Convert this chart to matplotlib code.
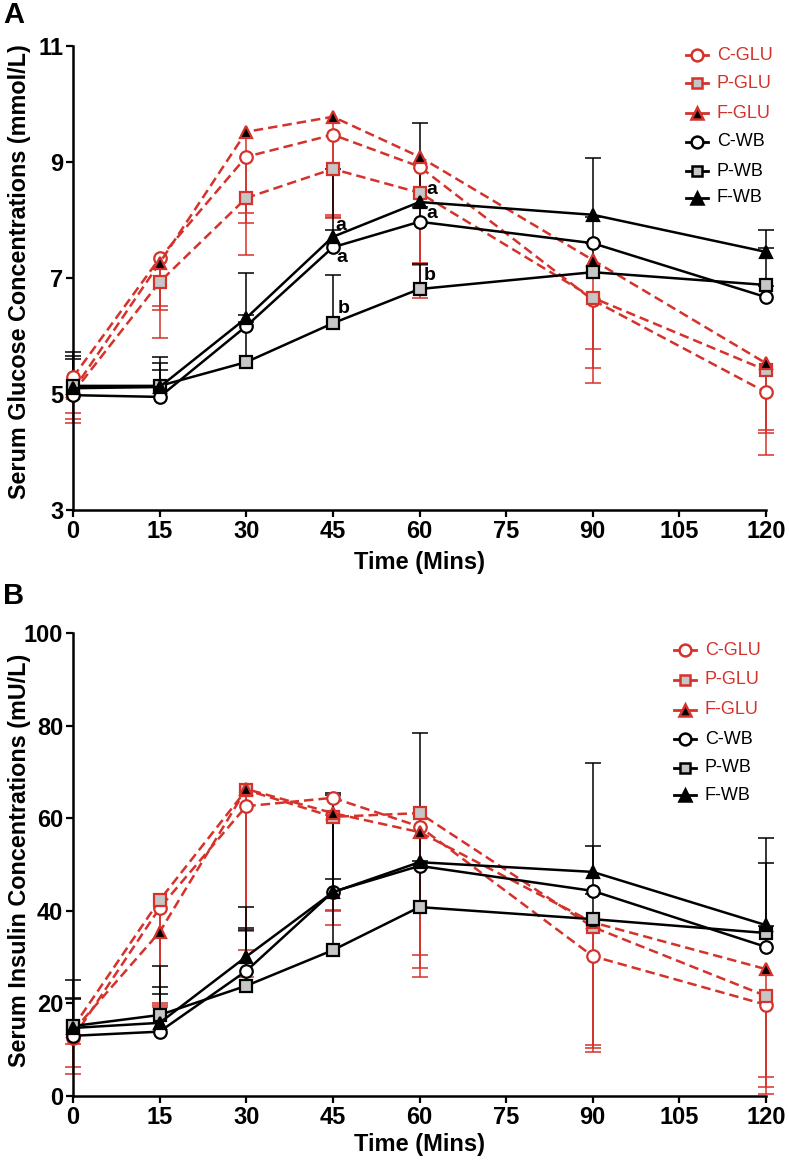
import matplotlib
matplotlib.use("Agg")
import matplotlib.pyplot as plt
from matplotlib.lines import Line2D
import numpy as np

# ---------------- data ----------------
times = [0, 15, 30, 45, 60, 90, 120]
series_names = ["C-GLU", "P-GLU", "F-GLU", "C-WB", "P-WB", "F-WB"]

# Panel A: serum glucose (mmol/L)
glu_C_GLU = [5.29, 7.34, 9.09, 9.47, 8.92, 6.62, 5.03]
glu_P_GLU = [5.02, 6.93, 8.38, 8.88, 8.47, 6.66, 5.41]
glu_F_GLU = [5.06, 7.26, 9.52, 9.78, 9.09, 7.31, 5.53]
glu_C_WB = [4.98, 4.95, 6.17, 7.53, 7.97, 7.60, 6.67]
glu_P_WB = [5.14, 5.14, 5.55, 6.22, 6.81, 7.10, 6.88]
glu_F_WB = [5.10, 5.12, 6.31, 7.71, 8.31, 8.09, 7.45]
# error bars (GLU drawn downward, WB drawn upward)
glu_C_GLU_sd = [0.72, 1.37, 1.69, 1.44, 2.26, 1.43, 1.08]
glu_P_GLU_sd = [0.52, 0.48, 0.43, 0.79, 1.25, 1.21, 1.08]
glu_F_GLU_sd = [0.39, 0.74, 1.40, 1.72, 1.83, 1.53, 1.15]
glu_C_WB_sd = [0.62, 0.46, 0.20, 0.30, 0.25, 0.45, 0.20]
glu_P_WB_sd = [0.58, 0.50, 0.70, 0.83, 0.44, 0.50, 0.64]
glu_F_WB_sd = [0.55, 0.41, 0.78, 1.17, 1.36, 0.98, 0.38]

# Panel B: serum insulin (mU/L)
ins_C_GLU = [12.5, 40.6, 62.6, 64.4, 58.2, 30.2, 19.7]
ins_P_GLU = [14.8, 42.3, 66.1, 60.3, 61.1, 36.5, 21.6]
ins_F_GLU = [14.0, 35.4, 66.3, 61.1, 57.0, 37.5, 27.4]
ins_C_WB = [13.0, 13.9, 27.0, 44.1, 49.7, 44.3, 32.2]
ins_P_WB = [15.1, 17.5, 23.8, 31.5, 40.8, 38.2, 35.2]
ins_F_WB = [14.7, 15.8, 30.1, 44.0, 50.5, 48.4, 36.9]
ins_C_GLU_sd = [7.7, 20.5, 36.9, 27.5, 30.6, 20.7, 17.8]
ins_P_GLU_sd = [3.6, 23.0, 34.6, 20.1, 30.6, 25.5, 17.5]
ins_F_GLU_sd = [7.7, 15.7, 30.7, 21.1, 31.3, 27.1, 26.9]
ins_C_WB_sd = [8.0, 8.1, 9.2, 21.3, 1.0, 9.7, 18.1]
ins_P_WB_sd = [9.9, 10.6, 12.0, 15.4, 8.5, 5.5, 1.5]
ins_F_WB_sd = [6.5, 7.7, 10.7, 21.0, 27.9, 23.5, 18.8]

# significance letters (panel A)
sig_labels = ["a", "a", "b", "a", "a", "b"]
sig_x = [46.3, 46.6, 46.8, 62.2, 62.2, 61.8]
sig_y = [7.91, 7.36, 6.47, 8.52, 8.12, 7.05]

xticks = [0, 15, 30, 45, 60, 75, 90, 105, 120]
yticksA = [3, 5, 7, 9, 11]
yticksB = [0, 20, 40, 60, 80, 100]

# ---------------- style ----------------
RED = "#d4322b"
GRAY = "#c6c6c6"
REG = ["Liberation Sans", "DejaVu Sans"]

styles = {
    "C-GLU": dict(color=RED, marker="o", mfc="white", ls=(0, (3.8, 2.0)), ms=9),
    "P-GLU": dict(color=RED, marker="s", mfc=GRAY, ls=(0, (3.8, 2.0)), ms=8),
    "F-GLU": dict(color=RED, marker="^", mfc="black", ls=(0, (3.8, 2.0)), ms=9),
    "C-WB": dict(color="black", marker="o", mfc="white", ls="-", ms=9),
    "P-WB": dict(color="black", marker="s", mfc=GRAY, ls="-", ms=8),
    "F-WB": dict(color="black", marker="^", mfc="black", ls="-", ms=9),
}

W, H = 789, 1163
fig = plt.figure(figsize=(W / 100, H / 100), dpi=100)


def fx(px):
    return px / W


def fy(py):
    return 1 - py / H


def make_axes(top, bottom):
    return fig.add_axes([fx(73), fy(bottom), fx(766) - fx(73), fy(top) - fy(bottom)])


def draw_panel(ax, means, sds, ylim, yticks):
    for name in series_names:
        st = styles[name]
        y = np.array(means[name])
        sd = np.array(sds[name])
        up = name.endswith("WB")
        yerr = [np.zeros_like(sd), sd] if up else [sd, np.zeros_like(sd)]
        _, caps, bars = ax.errorbar(times, y, yerr=yerr, fmt="none", ecolor=st["color"],
                                    elinewidth=1.1, capsize=5.5, capthick=1.1, zorder=2)
        for c in caps:
            c.set_clip_on(False)
            if np.allclose(c.get_ydata(), y):
                c.set_visible(False)
        for b in bars:
            b.set_clip_on(False)
        ax.plot(times, y, color=st["color"], ls=st["ls"], lw=1.8, marker=st["marker"],
                ms=st["ms"], mfc=st["mfc"], mec=st["color"], mew=1.6,
                clip_on=False, zorder=3)
    ax.set_xlim(0, 120)
    ax.set_ylim(*ylim)
    ax.set_xticks(xticks)
    ax.set_yticks(yticks)
    for s in ["top", "right"]:
        ax.spines[s].set_visible(False)
    for s in ["left", "bottom"]:
        ax.spines[s].set_linewidth(1.8)
    ax.tick_params(direction="out", length=5, width=1.6, pad=2)
    for lab in ax.get_xticklabels() + ax.get_yticklabels():
        lab.set_fontfamily(REG)
        lab.set_fontweight("bold")
        lab.set_fontsize(17)


axA = make_axes(46, 510)
draw_panel(axA,
           {"C-GLU": glu_C_GLU, "P-GLU": glu_P_GLU, "F-GLU": glu_F_GLU,
            "C-WB": glu_C_WB, "P-WB": glu_P_WB, "F-WB": glu_F_WB},
           {"C-GLU": glu_C_GLU_sd, "P-GLU": glu_P_GLU_sd, "F-GLU": glu_F_GLU_sd,
            "C-WB": glu_C_WB_sd, "P-WB": glu_P_WB_sd, "F-WB": glu_F_WB_sd},
           (3, 11), yticksA)
for t, xx, yy in zip(sig_labels, sig_x, sig_y):
    axA.text(xx, yy, t, ha="center", va="center", fontsize=14, fontweight="bold",
             family=REG, zorder=5)

axB = make_axes(633, 1096)
draw_panel(axB,
           {"C-GLU": ins_C_GLU, "P-GLU": ins_P_GLU, "F-GLU": ins_F_GLU,
            "C-WB": ins_C_WB, "P-WB": ins_P_WB, "F-WB": ins_F_WB},
           {"C-GLU": ins_C_GLU_sd, "P-GLU": ins_P_GLU_sd, "F-GLU": ins_F_GLU_sd,
            "C-WB": ins_C_WB_sd, "P-WB": ins_P_WB_sd, "F-WB": ins_F_WB_sd},
           (0, 100), yticksB)

# axis titles
fig.text(fx(420), fy(562), "Time (Mins)", ha="center", va="center", fontsize=17,
         fontweight="bold", family=REG)
fig.text(fx(420), fy(1145), "Time (Mins)", ha="center", va="center", fontsize=17,
         fontweight="bold", family=REG)
fig.text(fx(20), fy(272), "Serum Glucose Concentrations (mmol/L)", rotation=90,
         ha="center", va="center", fontsize=16.8, fontweight="bold", family=REG)
fig.text(fx(20), fy(860), "Serum Insulin Concentrations (mU/L)", rotation=90,
         ha="center", va="center", fontsize=16.8, fontweight="bold", family=REG)
fig.text(fx(14), fy(15), "A", ha="center", va="center", fontsize=21, fontweight="bold", family=REG)
fig.text(fx(14), fy(596), "B", ha="center", va="center", fontsize=21, fontweight="bold", family=REG)


def legend(x_marker, x_text, rows):
    for name, ry in zip(series_names, rows):
        st = styles[name]
        fig.add_artist(Line2D([fx(x_marker - 11), fx(x_marker + 11)], [fy(ry), fy(ry)],
                              transform=fig.transFigure, color=st["color"], lw=2.0))
        fig.add_artist(Line2D([fx(x_marker)], [fy(ry)], transform=fig.transFigure,
                              marker=st["marker"], ms=st["ms"] - 0.5, mfc=st["mfc"],
                              mec=st["color"], mew=1.8, ls="none"))
        fig.text(fx(x_text), fy(ry), name, ha="left", va="center", fontsize=13,
                 color=st["color"], family=REG)


legend(697, 717, [55, 83, 113, 142, 171, 198])
legend(685, 705, [650, 680, 710, 739, 768, 795])

fig.savefig("out.png", dpi=100)
